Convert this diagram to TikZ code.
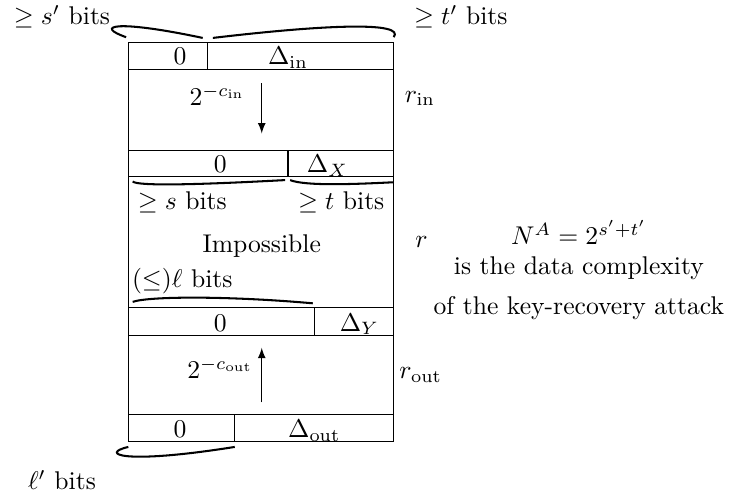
\documentclass[tikz,border=0pt]{standalone}
\begin{document}
\begin{tikzpicture}[txt/.style={anchor=base}, brace/.style={thick}]
    \useasboundingbox (0,0) rectangle (10.04,6.86);

    % Blocks
    \draw (1.76,0.81) rectangle (5.40,6.28);
    \foreach \y in {5.91,4.80,4.44,2.64,2.26,1.18}
        \draw (1.76,\y) -- (5.40,\y);
    \draw (2.85,5.91) -- (2.85,6.28);
    \draw (3.95,4.44) -- (3.95,4.80);
    \draw (4.32,2.26) -- (4.32,2.64);
    \draw (3.22,0.81) -- (3.22,1.18);

    % Differences
    \node[txt] (zin) at (2.47,5.97) {0};
    \node[txt] (din) at (3.95,5.97) {$\Delta_{\mathrm{in}}$};
    \node[txt] (zx) at (3.02,4.49) {0};
    \node[txt] (dx) at (4.49,4.49) {$\Delta_X$};
    \node[txt] (zy) at (3.02,2.32) {0};
    \node[txt] (dy) at (4.93,2.32) {$\Delta_Y$};
    \node[txt] (zout) at (2.47,0.86) {0};
    \node[txt] (dout) at (4.31,0.86) {$\Delta_{\mathrm{out}}$};

    % Probabilities
    \node[txt] (pin) at (2.98,5.41) {$2^{-c_{\mathrm{in}}}$};
    \node[txt] (pout) at (3.02,1.67) {$2^{-c_{\mathrm{out}}}$};
    \coordinate (inA) at (3.59,5.72);
    \coordinate (inB) at (3.59,5.03);
    \coordinate (outA) at (3.59,1.34);
    \coordinate (outB) at (3.59,2.09);
    \draw[-latex] (inA) -- (inB);
    \draw[-latex] (outA) -- (outB);

    % Distinguisher
    \node[txt] (imp) at (3.59,3.40) {Impossible};
    \node[txt] (sbits) at (2.50,3.98) {$\geq s$ bits};
    \node[txt] (tbits) at (4.68,3.98) {$\geq t$ bits};
    \node[txt] (lbits) at (2.50,2.91) {$(\leq)\ell$ bits};

    % Outer labels
    \node[txt] (sdbits) at (0.85,6.52) {$\geq s'$ bits};
    \node[txt] (tdbits) at (6.32,6.52) {$\geq t'$ bits};
    \node[txt] (ldbits) at (0.85,0.14) {$\ell'$ bits};

    % Rounds
    \node[txt] (rin) at (5.76,5.46) {$r_{\mathrm{in}}$};
    \node[txt] (r) at (5.78,3.47) {$r$};
    \node[txt] (rout) at (5.77,1.67) {$r_{\mathrm{out}}$};

    % Data complexity
    \node[txt] (na) at (7.94,3.50) {$N^A = 2^{s'+t'}$};
    \node[txt] (dc1) at (7.94,3.09) {is the data complexity};
    \node[txt] (dc2) at (7.94,2.54) {of the key-recovery attack};

    % Braces
    \draw[brace] (1.73,6.35) .. controls (1.30,6.50) and (1.55,6.60) .. (2.78,6.34);
    \draw[brace] (2.92,6.34) .. controls (4.53,6.53) and (5.56,6.56) .. (5.40,6.35);
    \draw[brace] (1.82,4.37) .. controls (1.89,4.31) and (2.61,4.32) .. (3.91,4.39);
    \draw[brace] (3.98,4.39) .. controls (4.18,4.31) and (4.80,4.33) .. (5.39,4.36);
    \draw[brace] (1.82,2.72) .. controls (2.06,2.80) and (3.16,2.80) .. (4.29,2.70);
    \draw[brace] (1.76,0.73) .. controls (1.37,0.64) and (1.65,0.48) .. (3.22,0.73);
\end{tikzpicture}
\end{document}
